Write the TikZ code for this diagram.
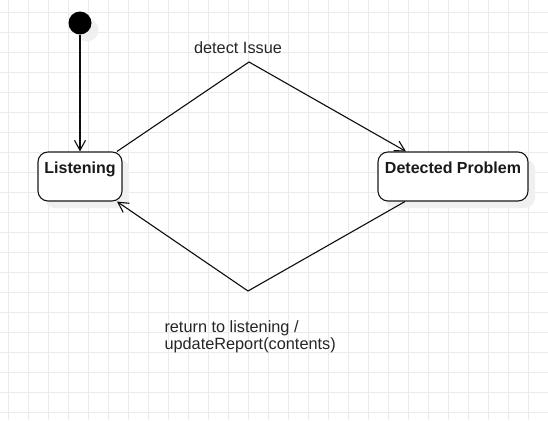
\documentclass[tikz,border=0pt]{standalone}
\usepackage{fontspec}
\setmainfont{Liberation Sans}
\usetikzlibrary{arrows.meta,calc}
\tikzset{
  gridline/.style={draw=black!8, line width=0.9pt},
  statebox/.style={draw=black!90, line width=1.1pt, rounded corners=10pt, fill=white, minimum width=#1, minimum height=49pt, inner sep=0pt},
  shadowbox/.style={fill=black!6, rounded corners=10pt, minimum width=#1, minimum height=49pt, inner sep=0pt},
  statetext/.style={font=\fontsize{16}{18}\selectfont\bfseries, text=black!90, anchor=base, inner sep=0pt},
  edgetext/.style={font=\fontsize{16.3}{16.6}\selectfont, text=black!85, inner sep=0pt},
  trans/.style={draw=black!95, line width=1.1pt, -{Straight Barb[length=10pt,width=11pt,line width=1.1pt]}},
}
\begin{document}
\begin{tikzpicture}[x=1pt,y=-1pt]
\useasboundingbox (0,0) rectangle (548,420);
\fill[white] (0,0) rectangle (548,420);
% grid
\foreach \i in {0,...,27} { \draw[gridline] (8.3+20*\i,0) -- (8.3+20*\i,420); }
\foreach \j in {0,...,20} { \draw[gridline] (0,12.7+20*\j) -- (548,12.7+20*\j); }
% shadows
\fill[black!6] (87,30) circle (11.5);
\node[shadowbox=84pt] (listensh) at (87,183.5) {};
\node[shadowbox=150pt] (detsh) at (460,183.5) {};
% initial state
\node[circle, fill=black, minimum size=23pt, inner sep=0pt] (init) at (80,23) {};
% states
\node[statebox=84pt] (listen) at (80,176.5) {};
\node[statetext] (listentxt) at (80,173.5) {Listening};
\node[statebox=150pt] (det) at (453,176.5) {};
\node[statetext] (dettxt) at (453,173.5) {Detected Problem};
% transitions
\coordinate (p1) at (249,62);
\coordinate (p2) at (248,291);
\draw[trans] (init.south) -- (listen.north);
\draw[trans] ([xshift=37pt]listen.north) -- (p1) -- ([xshift=-47pt]det.north);
\draw[trans] ([xshift=-48pt]det.south) -- (p2) -- ([xshift=37pt]listen.south);
% labels
\node[edgetext, anchor=base] (lbl1) at (238,53.3) {detect Issue};
\node[edgetext, anchor=base west, align=left] (lbl2) at (164.3,349.3) {return to listening /\\updateReport(contents)};
\end{tikzpicture}
\end{document}
